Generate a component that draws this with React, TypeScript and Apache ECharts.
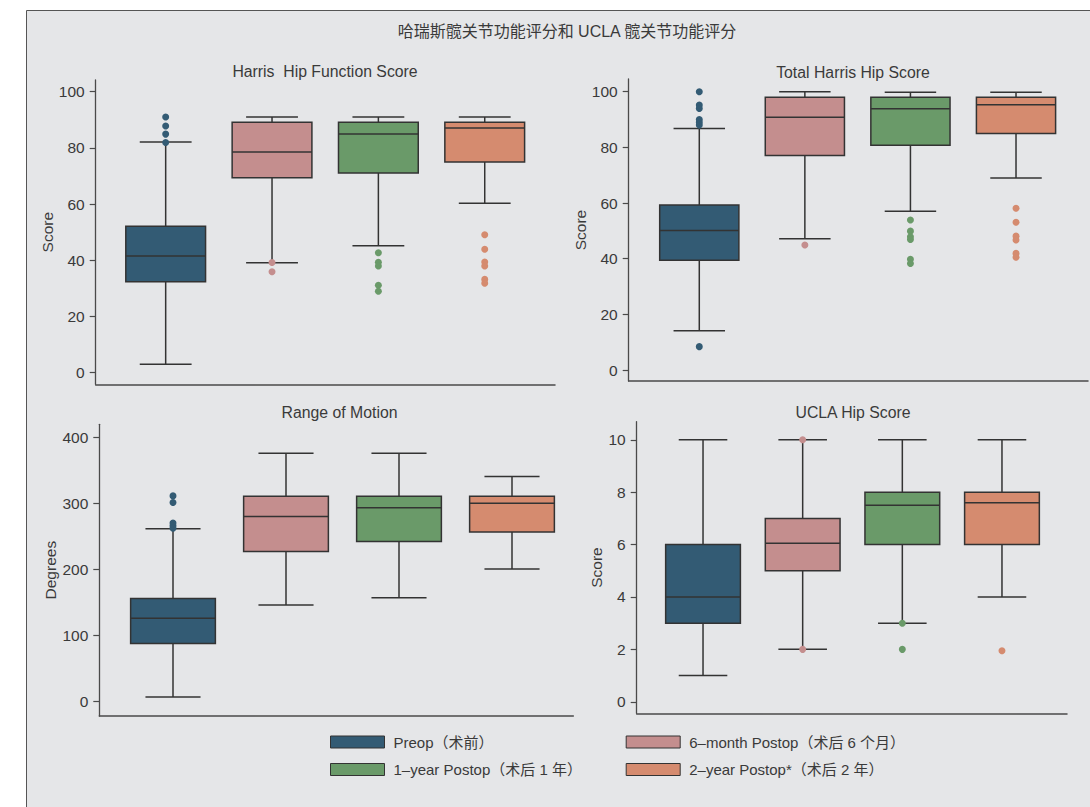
import React, { useEffect, useRef } from "react";
import * as echarts from "echarts";

// ---------- data ----------
const groups = [
  "Preop（术前）",
  "6–month Postop（术后 6 个月）",
  "1–year Postop（术后 1 年）",
  "2–year Postop*（术后 2 年）",
];
const groupColors = ["#335b74", "#c48e8e", "#6a9a69", "#d58b6f"];

const mainTitle = "哈瑞斯髋关节功能评分和 UCLA 髋关节功能评分";
const panelTitles = ["Harris  Hip Function Score", "Total Harris Hip Score", "Range of Motion", "UCLA Hip Score"];
const axisNames = ["Score", "Score", "Degrees", "Score"];

// [min, Q1, median, Q3, max]
const harrisFunctionBoxes = [
  [3, 32.4, 41.5, 52.1, 82.1],
  [39.1, 69.4, 78.5, 89.1, 91],
  [45.2, 71.1, 84.9, 89.1, 91],
  [60.3, 75, 87.1, 89.1, 91],
];
const harrisFunctionOutliers = [
  [91, 87.8, 84.9, 81.9],
  [39.2, 35.9],
  [42.7, 39.3, 38, 31.1, 29],
  [49.1, 43.9, 39.4, 38, 33.2, 31.8],
];

const totalHarrisBoxes = [
  [14.1, 39.4, 50.1, 59.3, 86.8],
  [47.2, 77.1, 90.8, 98, 100],
  [57, 80.8, 93.9, 98, 99.8],
  [69, 85, 95.3, 98, 99.8],
];
const totalHarrisOutliers = [
  [100, 95.2, 94, 90, 89, 88, 8.4],
  [44.9],
  [53.9, 49.9, 47.9, 46.9, 39.8, 38.3],
  [58.1, 53.1, 48.1, 46.7, 41.9, 40.5],
];

const romBoxes = [
  [7, 88, 126, 156, 261.5],
  [146, 227, 280, 310.5, 375.5],
  [157, 242, 293, 310.5, 375.5],
  [200.5, 256.5, 300, 310.5, 340.5],
];
const romOutliers = [[311, 301, 270, 266, 262], [], [], []];

const uclaBoxes = [
  [1, 3, 4, 6, 10],
  [2, 5, 6.05, 7, 10],
  [3, 6, 7.5, 8, 10],
  [4, 6, 7.6, 8, 10],
];
const uclaOutliers = [[], [10, 2], [3, 2], [1.95]];

const scoreTicks = [0, 20, 40, 60, 80, 100];
const romTicks = [0, 100, 200, 300, 400];
const uclaTicks = [0, 2, 4, 6, 8, 10];

// ---------- layout ----------
const panels = [
  { boxes: harrisFunctionBoxes, outliers: harrisFunctionOutliers, ticks: scoreTicks, min: -4.13, max: 104.16,
    axisX: 95.7, catLeft: 112.5, catRight: 537.9, lineEnd: 555, top: 80, bottom: 384.3, nameGap: 36, titleX: 325, titleY: 63.5 },
  { boxes: totalHarrisBoxes, outliers: totalHarrisOutliers, ticks: scoreTicks, min: -3.95, max: 104.56,
    axisX: 628.7, catLeft: 646.5, catRight: 1068.8, lineEnd: 1088, top: 79, bottom: 381, nameGap: 35, titleX: 853, titleY: 64.5 },
  { boxes: romBoxes, outliers: romOutliers, ticks: romTicks, min: -21.6, max: 419.2,
    axisX: 99.3, catLeft: 116.5, catRight: 568.5, lineEnd: 573.3, top: 424.3, bottom: 716, nameGap: 37, titleX: 339.5, titleY: 405 },
  { boxes: uclaBoxes, outliers: uclaOutliers, ticks: uclaTicks, min: -0.44, max: 10.69,
    axisX: 636.7, catLeft: 653.2, catRight: 1051.8, lineEnd: 1067, top: 421.7, bottom: 713.3, nameGap: 29, titleX: 853, titleY: 405 },
];

const FONT = "'Liberation Sans', 'Noto Sans CJK SC', sans-serif";
const LINE = "#333333";
const TEXT = "#3a3a3a";

function makeRenderItem(color: string) {
  return (params: any, api: any) => {
    const idx = api.value(0);
    const lo = api.coord([idx, api.value(1)]);
    const q1 = api.coord([idx, api.value(2)]);
    const md = api.coord([idx, api.value(3)]);
    const q3 = api.coord([idx, api.value(4)]);
    const hi = api.coord([idx, api.value(5)]);
    const band = api.size([1, 0])[0];
    const bw = band * 0.75;
    const cw = bw * 0.65;
    const x = lo[0];
    const ls = { stroke: LINE, lineWidth: 1.5, fill: null };
    return {
      type: "group",
      children: [
        { type: "line", shape: { x1: x, y1: lo[1], x2: x, y2: q1[1] }, style: ls },
        { type: "line", shape: { x1: x, y1: q3[1], x2: x, y2: hi[1] }, style: ls },
        { type: "line", shape: { x1: x - cw / 2, y1: lo[1], x2: x + cw / 2, y2: lo[1] }, style: ls },
        { type: "line", shape: { x1: x - cw / 2, y1: hi[1], x2: x + cw / 2, y2: hi[1] }, style: ls },
        { type: "rect", shape: { x: x - bw / 2, y: q3[1], width: bw, height: q1[1] - q3[1] },
          style: { fill: color, stroke: LINE, lineWidth: 1.5 } },
        { type: "line", shape: { x1: x - bw / 2, y1: md[1], x2: x + bw / 2, y2: md[1] }, style: ls },
      ],
    };
  };
}

function buildOption() {
  const grid: any[] = [];
  const xAxis: any[] = [];
  const yAxis: any[] = [];
  const series: any[] = [];
  const title: any[] = [
    { text: mainTitle, left: 567, top: 23.5, textAlign: "center", padding: 0,
      textStyle: { fontSize: 16, fontWeight: "normal", color: TEXT, fontFamily: FONT } },
  ];

  panels.forEach((p, pi) => {
    const gMain = grid.length;
    grid.push({ left: p.catLeft, top: p.top, width: p.catRight - p.catLeft, height: p.bottom - p.top });
    grid.push({ left: p.axisX, top: p.top, width: p.lineEnd - p.axisX, height: p.bottom - p.top });

    const xMain = xAxis.length;
    xAxis.push({
      type: "category", gridIndex: gMain, data: groups,
      axisLine: { show: false }, axisTick: { show: false }, axisLabel: { show: false }, splitLine: { show: false },
    });
    xAxis.push({
      type: "value", gridIndex: gMain + 1, min: 0, max: 1,
      axisLine: { show: true, lineStyle: { color: "#4a4a4a", width: 1.5 } },
      axisTick: { show: false }, axisLabel: { show: false }, splitLine: { show: false },
    });
    const yMain = yAxis.length;
    yAxis.push({
      type: "value", gridIndex: gMain, min: p.min, max: p.max, offset: p.catLeft - p.axisX,
      name: axisNames[pi], nameLocation: "middle", nameGap: p.nameGap,
      nameTextStyle: { fontSize: 15.5, color: TEXT, fontFamily: FONT },
      axisLine: { show: true, lineStyle: { color: "#4a4a4a", width: 1.3 } },
      axisTick: { show: true, length: 6, customValues: p.ticks, lineStyle: { color: "#4a4a4a", width: 1.2 } },
      axisLabel: { show: true, customValues: p.ticks, margin: 11, fontSize: 15.5, color: TEXT, fontFamily: FONT },
      splitLine: { show: false },
    });
    yAxis.push({ type: "value", gridIndex: gMain + 1, show: false, min: 0, max: 1 });

    title.push({
      text: panelTitles[pi], left: p.titleX, top: p.titleY, textAlign: "center", padding: 0,
      textStyle: { fontSize: 15.8, fontWeight: "normal", color: TEXT, fontFamily: FONT },
    });

    groups.forEach((g, gi) => {
      series.push({
        type: "custom", name: g, xAxisIndex: xMain, yAxisIndex: yMain,
        renderItem: makeRenderItem(groupColors[gi]),
        itemStyle: { color: groupColors[gi] },
        encode: { x: 0, y: [1, 2, 3, 4, 5] },
        data: [[gi, ...p.boxes[gi]]],
        silent: true,
      });
    });
    groups.forEach((g, gi) => {
      series.push({
        type: "scatter", name: g, xAxisIndex: xMain, yAxisIndex: yMain,
        symbol: "circle", symbolSize: 7,
        itemStyle: { color: groupColors[gi], opacity: 1 },
        data: p.outliers[gi].map((v) => [gi, v]),
        silent: true,
      });
    });
  });

  const legendBase = {
    orient: "vertical", itemWidth: 54, itemHeight: 12, itemGap: 12.5, padding: 0,
    selectedMode: false, icon: "rect",
    textStyle: { fontSize: 15, color: TEXT, fontFamily: FONT, padding: [0, 0, 0, 4] },
  };
  const legendItem = (gi: number) => ({
    name: groups[gi], icon: "rect",
    itemStyle: { color: groupColors[gi], borderColor: "#333", borderWidth: 1 },
  });

  return {
    animation: false,
    backgroundColor: "#ffffff",
    textStyle: { fontFamily: FONT },
    graphic: [
      { type: "rect", z: -100, silent: true,
        shape: { x: 26.5, y: 10.5, width: 1100, height: 830 },
        style: { fill: "#e5e6e8", stroke: "#555555", lineWidth: 1 } },
    ],
    title,
    legend: [
      { ...legendBase, left: 330, top: 734.5, data: [legendItem(0), legendItem(2)] },
      { ...legendBase, left: 625.7, top: 734.5, data: [legendItem(1), legendItem(3)] },
    ],
    grid,
    xAxis,
    yAxis,
    series,
  };
}

export default function App() {
  const ref = useRef<HTMLDivElement>(null);
  useEffect(() => {
    if (!ref.current) return;
    const chart = echarts.init(ref.current, undefined, { renderer: "svg" });
    chart.setOption(buildOption() as any);
    return () => chart.dispose();
  }, []);
  return (
    <div
      ref={ref}
      style={{ position: "absolute", left: 0, top: 0, width: 1090, height: 807 }}
    />
  );
}
